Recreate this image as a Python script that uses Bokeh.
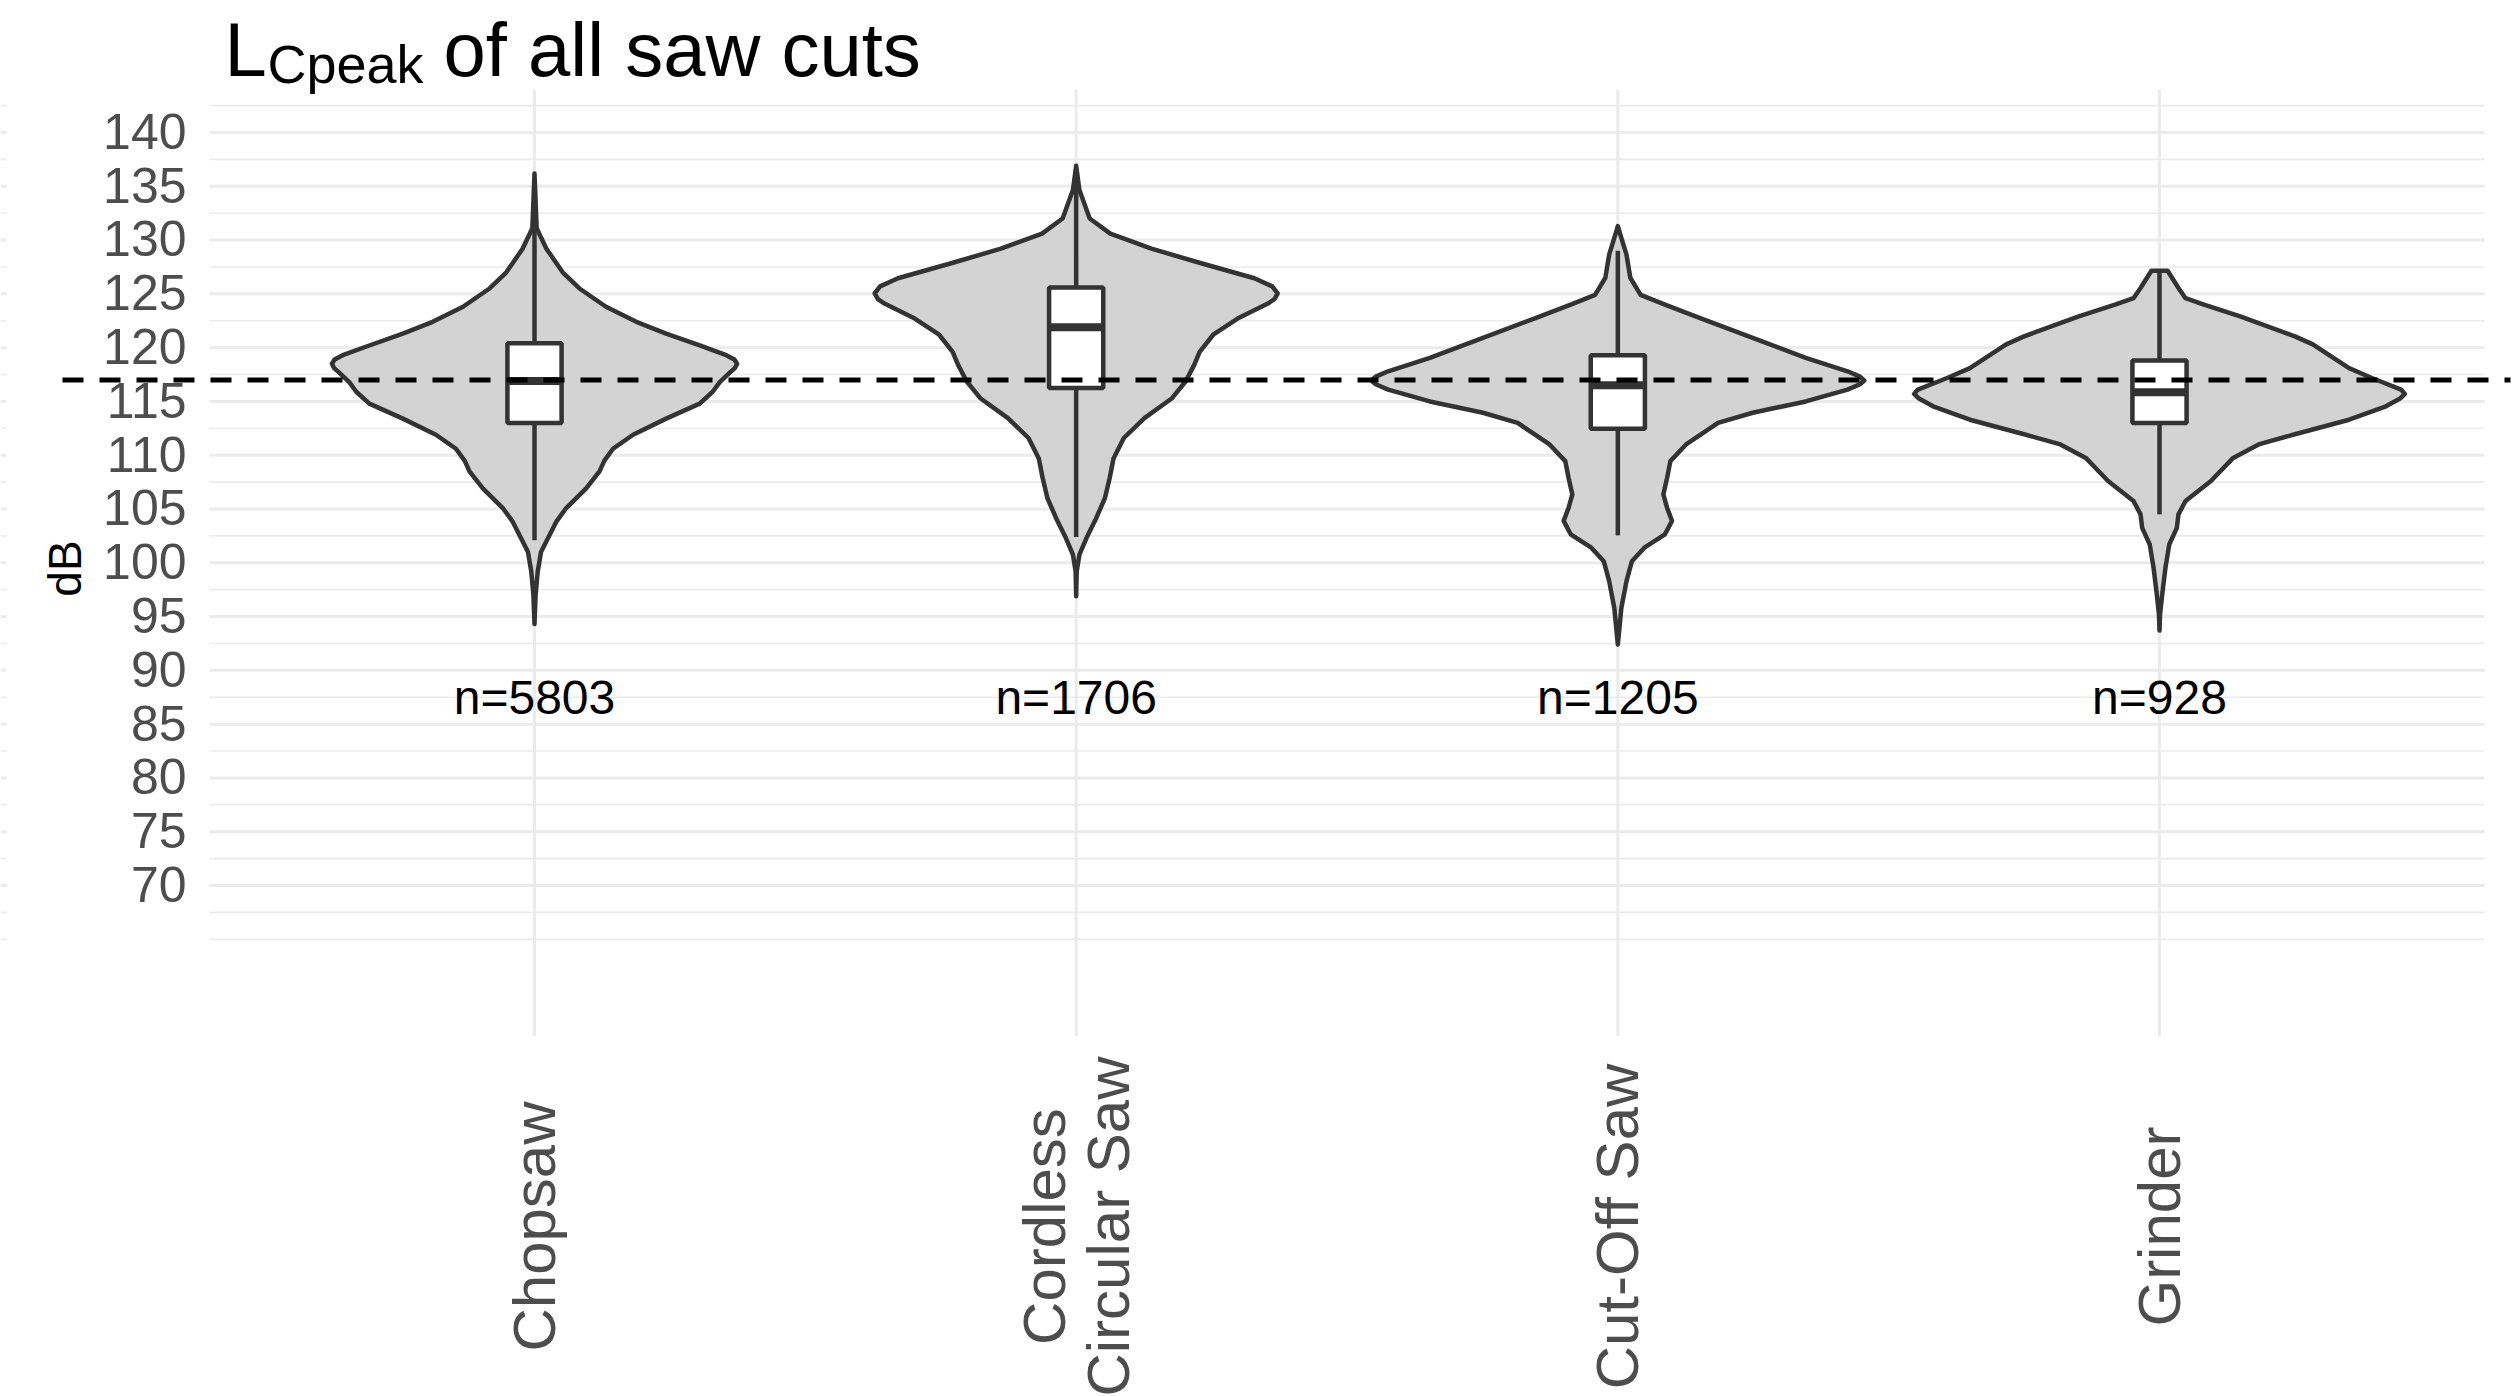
import numpy as np
from bokeh.plotting import figure
from bokeh.models import Range1d
from bokeh.embed import file_html
from bokeh.resources import INLINE
from bokeh.core.properties import value

# ---------------------------------------------------------------- data
tools = ["Chopsaw", "Cordless\nCircular Saw", "Cut-Off Saw", "Grinder"]
n_counts = [5803, 1706, 1205, 928]
ref_level = 117  # dB reference line

y_ticks = [70, 75, 80, 85, 90, 95, 100, 105, 110, 115, 120, 125, 130, 135, 140]
y_minor = [65, 67.5, 72.5, 77.5, 82.5, 87.5, 92.5, 97.5, 102.5, 107.5, 112.5,
           117.5, 122.5, 127.5, 132.5, 137.5, 142.5]

# violin outlines: level (dB) and half width (category units)
chopsaw_db = [136.2, 131.1, 129.2, 127.0, 125.5, 123.8, 122.4, 121.3, 120.2, 119.3,
              118.9, 118.5, 118.1, 117.75, 116.8, 115.9, 114.8, 113.4, 111.9, 110.6,
              109.5, 108.5, 106.9, 105.05, 103.8, 102.0, 101.0, 99.2, 97.0, 94.3]
chopsaw_hw = [0.0, 0.004, 0.022, 0.052, 0.083, 0.132, 0.188, 0.243, 0.305, 0.354,
              0.369, 0.374, 0.370, 0.362, 0.342, 0.329, 0.305, 0.243, 0.182, 0.145,
              0.129, 0.120, 0.095, 0.058, 0.040, 0.022, 0.012, 0.006, 0.002, 0.0]

cordless_db = [136.9, 134.65, 132.0, 130.6, 129.2, 127.8, 126.45, 125.7, 125.05, 124.5,
               124.1, 122.7, 121.2, 119.6, 118.4, 116.85, 115.3, 113.45, 111.6, 109.7,
               107.9, 106.0, 104.15, 102.3, 100.75, 99.2, 96.9]
cordless_hw = [0.0, 0.006, 0.025, 0.063, 0.139, 0.234, 0.329, 0.362, 0.372, 0.366,
               0.354, 0.298, 0.253, 0.228, 0.218, 0.202, 0.177, 0.126, 0.088, 0.069,
               0.062, 0.053, 0.037, 0.019, 0.006, 0.001, 0.0]

cutoff_db = [131.3, 130.2, 128.65, 126.5, 124.9, 124.0, 122.75, 120.9, 119.05, 117.8,
             117.3, 116.95, 116.6, 116.1, 115.0, 113.95, 113.0, 111.0, 109.45, 107.9,
             106.35, 105.1, 103.9, 102.65, 101.4, 100.15, 98.3, 95.8, 92.4]
cutoff_hw = [0.0, 0.0065, 0.016, 0.023, 0.042, 0.087, 0.152, 0.249, 0.347, 0.424,
             0.447, 0.455, 0.447, 0.424, 0.347, 0.249, 0.185, 0.126, 0.097, 0.091,
             0.084, 0.091, 0.100, 0.087, 0.049, 0.026, 0.016, 0.0065, 0.0]

grinder_db = [127.15, 125.55, 124.6, 124.0, 122.9, 121.05, 120.3, 118.1, 117.2, 116.1,
              115.7, 115.3, 114.55, 113.3, 111.95, 111.0, 109.75, 107.6, 105.75, 104.5,
              103.25, 101.7, 99.55, 97.05, 95.2, 93.7]
grinder_hw = [0.015, 0.035, 0.048, 0.082, 0.149, 0.250, 0.283, 0.350, 0.391, 0.446,
              0.453, 0.445, 0.418, 0.350, 0.250, 0.183, 0.136, 0.095, 0.048, 0.035,
              0.032, 0.018, 0.011, 0.005, 0.001, 0.0]

violin_db = [chopsaw_db, cordless_db, cutoff_db, grinder_db]
violin_hw = [chopsaw_hw, cordless_hw, cutoff_hw, grinder_hw]

# box plot statistics
q1 = [113.0, 116.25, 112.45, 113.0]
median = [116.9, 121.9, 116.5, 115.85]
q3 = [120.4, 125.6, 119.3, 118.8]
whisker_lo = [102.1, 102.4, 102.55, 104.5]
whisker_hi = [131.0, 136.5, 129.0, 127.1]

# ---------------------------------------------------------------- canvas geometry
W, H = 2520, 1396
X_LIM = (0.4, 4.6)          # discrete axis limits of the panel
X_LIM_PX = (209, 2484)      # their pixel columns
Y_LIM = (56, 144)           # panel value limits
sx = (X_LIM_PX[1] - X_LIM_PX[0]) / (X_LIM[1] - X_LIM[0])
x_start = X_LIM[0] - X_LIM_PX[0] / sx
sy = (885 - 132) / (140 - 70)        # px per dB
y_top = 140 + 132 / sy


def px_x(px):
    return x_start + px / sx


def px_y(py):
    return y_top - py / sy


p = figure(width=W, height=H,
           x_range=Range1d(x_start, x_start + W / sx),
           y_range=Range1d(y_top - H / sy, y_top),
           x_axis_type=None, y_axis_type=None,
           toolbar_location=None, output_backend="svg",
           min_border=0, outline_line_color=None,
           background_fill_color="white", border_fill_color="white")

FONT = value("Liberation Sans")
GRID = "#EBEBEB"
INK = "#333333"
LW = 4.5
xs = [1, 2, 3, 4]

# grid lines
p.segment(x0=[X_LIM[0]] * len(y_minor), x1=[X_LIM[1]] * len(y_minor),
          y0=y_minor, y1=y_minor, line_color=GRID, line_width=1.6)
p.segment(x0=[X_LIM[0]] * len(y_ticks), x1=[X_LIM[1]] * len(y_ticks),
          y0=y_ticks, y1=y_ticks, line_color=GRID, line_width=3)
p.segment(x0=xs, x1=xs, y0=[Y_LIM[0]] * 4, y1=[Y_LIM[1]] * 4,
          line_color=GRID, line_width=3)
# short grid stubs at the far left edge
p.segment(x0=[px_x(0)] * len(y_minor), x1=[px_x(6)] * len(y_minor),
          y0=y_minor, y1=y_minor, line_color=GRID, line_width=1.6)
p.segment(x0=[px_x(0)] * len(y_ticks), x1=[px_x(6)] * len(y_ticks),
          y0=y_ticks, y1=y_ticks, line_color=GRID, line_width=3)

# violins
for c, dbs, hws in zip(xs, violin_db, violin_hw):
    dbs = np.asarray(dbs, float)
    hws = np.asarray(hws, float)
    px = np.concatenate([c + hws, (c - hws)[::-1]])
    py = np.concatenate([dbs, dbs[::-1]])
    p.patch(px, py, fill_color="#D3D3D3", line_color=INK, line_width=LW,
            line_join="round")

# box plots
BOX_W = 0.1
p.segment(x0=xs, x1=xs, y0=q3, y1=whisker_hi, line_color=INK, line_width=LW)
p.segment(x0=xs, x1=xs, y0=q1, y1=whisker_lo, line_color=INK, line_width=LW)
p.quad(left=[c - BOX_W / 2 for c in xs], right=[c + BOX_W / 2 for c in xs],
       bottom=q1, top=q3, fill_color="white", line_color=INK, line_width=LW)
p.segment(x0=[c - BOX_W / 2 for c in xs], x1=[c + BOX_W / 2 for c in xs],
          y0=median, y1=median, line_color=INK, line_width=8)

# reference level
p.segment(x0=[px_x(62)], x1=[px_x(2510)], y0=[ref_level], y1=[ref_level],
          line_color="black", line_width=5, line_dash="21 16")

# sample sizes
p.text(x=xs, y=[px_y(697)] * 4, text=[f"n={n}" for n in n_counts],
       text_font=FONT, text_font_size="48px", text_color="black",
       text_align="center", text_baseline="alphabetic")

# y tick labels
TICK_PX = 50
p.text(x=[px_x(186)] * len(y_ticks),
       y=[v - 0.716 * TICK_PX / 2 / sy + 19 / sy for v in y_ticks],
       text=[str(v) for v in y_ticks],
       text_font=FONT, text_font_size=f"{TICK_PX}px", text_color="#4D4D4D",
       text_align="right", text_baseline="alphabetic")

# category labels
p.text(x=xs, y=[px_y(1226)] * 4, text=tools, angle=np.pi / 2,
       text_font=FONT, text_font_size="60px", text_color="#4D4D4D",
       text_align="center", text_baseline="middle", text_line_height=0.96)

# axis title
p.text(x=[px_x(64)], y=[px_y(568)], text=["dB"], angle=np.pi / 2,
       text_font=FONT, text_font_size="46px", text_color="black",
       text_align="center", text_baseline="middle")

# plot title with subscript
p.text(x=[px_x(224)], y=[px_y(49)], text=["L"], text_font=FONT,
       text_font_size="76px", text_color="black", text_baseline="alphabetic")
p.text(x=[px_x(267)], y=[px_y(63)], text=["Cpeak"], text_font=FONT,
       text_font_size="54px", text_color="black", text_baseline="alphabetic")
p.text(x=[px_x(443)], y=[px_y(49)], text=["of all saw cuts"], text_font=FONT,
       text_font_size="76px", text_color="black", text_baseline="alphabetic")

open("out.html", "w").write(file_html(p, INLINE))
